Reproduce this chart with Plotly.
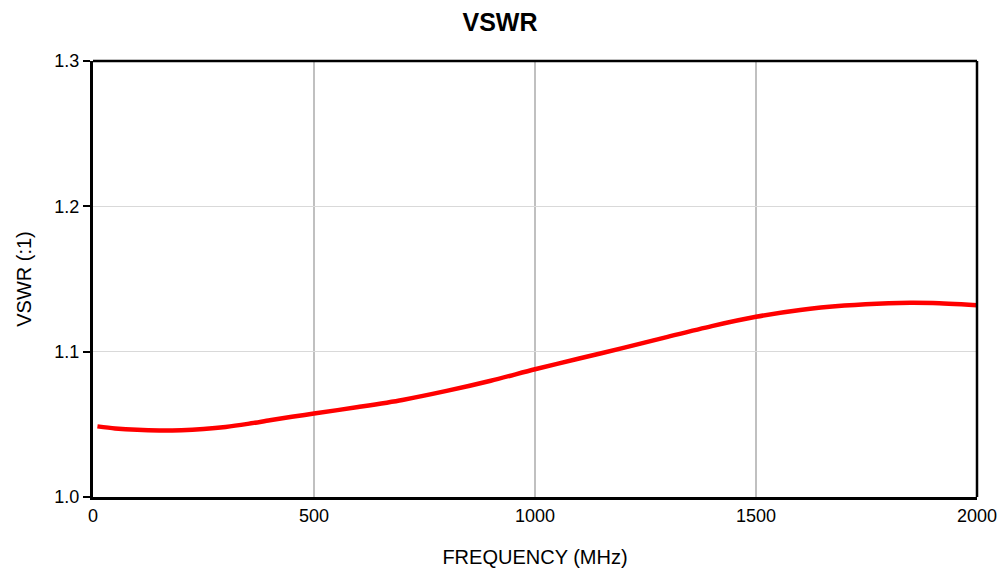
import plotly.graph_objects as go

freq_mhz = [10, 50, 100, 150, 200, 250, 300, 350, 400, 450, 500, 600, 700, 800, 900, 1000,
            1100, 1200, 1300, 1400, 1500, 1600, 1700, 1800, 1850, 1900, 2000]
vswr = [1.0486, 1.0472, 1.0462, 1.0458, 1.0460, 1.0468, 1.0482, 1.0503, 1.0528, 1.0552, 1.0574,
        1.0619, 1.0668, 1.0730, 1.0800, 1.0879, 1.0953, 1.1026, 1.1102, 1.1176, 1.1240,
        1.1287, 1.1317, 1.1334, 1.1337, 1.1335, 1.1320]

x_ticks = [0, 500, 1000, 1500, 2000]
y_ticks = [1.0, 1.1, 1.2, 1.3]

font = "Liberation Sans, Arial, Helvetica, sans-serif"

fig = go.Figure()
fig.add_trace(go.Scatter(x=freq_mhz, y=vswr, mode="lines",
                         line=dict(color="#ff0000", width=4.5, shape="spline", smoothing=0.8),
                         hoverinfo="skip", showlegend=False))

fig.update_layout(
    width=1000, height=579,
    margin=dict(l=93, r=23, t=61, b=82, autoexpand=False),
    paper_bgcolor="white", plot_bgcolor="white",
    font=dict(family=font, size=18, color="black"),
    title=dict(text="<b>VSWR</b>", x=0.5, xanchor="center", y=1 - 22 / 579, yanchor="middle",
               font=dict(family=font, size=25, color="black")),
    xaxis=dict(range=[0, 2000], tickvals=x_ticks, ticktext=[str(v) for v in x_ticks],
               showgrid=True, gridcolor="#c0c0c0", gridwidth=2,
               showline=True, linecolor="black", linewidth=3,
               ticks="", zeroline=False,
               title=dict(text="FREQUENCY (MHz)", font=dict(size=20), standoff=26),
               tickfont=dict(size=18)),
    yaxis=dict(range=[1.0, 1.3], tickvals=y_ticks, ticktext=["1.0", "1.1", "1.2", "1.3"],
               showgrid=True, gridcolor="#d9d9d9", gridwidth=1,
               showline=True, linecolor="black", linewidth=3,
               ticks="outside", ticklen=7, tickwidth=2, tickcolor="black", zeroline=False,
               title=dict(text="VSWR (:1)", font=dict(size=20), standoff=18),
               tickfont=dict(size=18)),
    shapes=[
        dict(type="line", xref="x domain", yref="y domain", x0=0, x1=1, y0=1, y1=1,
             line=dict(color="black", width=2.5)),
        dict(type="line", xref="x domain", yref="y domain", x0=1, x1=1, y0=0, y1=1,
             line=dict(color="black", width=2.5)),
    ],
)

fig.write_html("out.html", config={"displayModeBar": False},
               post_script="document.body.style.margin='0';")
